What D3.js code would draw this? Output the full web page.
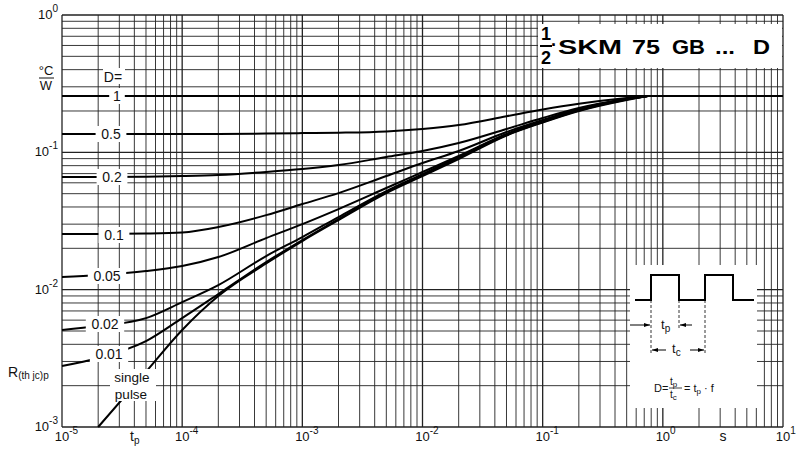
<!DOCTYPE html>
<html><head><meta charset="utf-8">
<script src="https://cdn.jsdelivr.net/npm/d3@7/dist/d3.min.js"></script>
<style>
html,body{margin:0;padding:0;background:#fff;}
svg{display:block;font-family:"Liberation Sans",Arial,sans-serif;}
</style></head>
<body>
<svg id="chart" width="797" height="452"></svg>
<script>
// ---- data ----
const tValues = [1e-5, 2e-5, 5e-5, 1e-4, 2e-4, 5e-4, 1e-3, 2e-3, 5e-3, 1e-2, 2e-2, 5e-2, 0.1, 0.2, 0.5, 0.75];
const tD1 = [1e-5, 10];
const rD1 = [0.257, 0.257];
const rD05  = [0.136,0.136,0.136,0.136,0.136,0.137,0.138,0.139,0.142,0.148,0.158,0.183,0.205,0.226,0.249,0.257];
const rD02  = [0.066,0.066,0.0665,0.0672,0.0684,0.0719,0.0755,0.0808,0.0924,0.1022,0.1168,0.1478,0.1778,0.2102,0.2444,0.257];
const rD01  = [0.0254,0.0254,0.0256,0.0261,0.0286,0.0349,0.042,0.0505,0.0672,0.0836,0.1022,0.1405,0.1719,0.2067,0.2444,0.257];
const rD005 = [0.01235,0.01277,0.01366,0.01486,0.01728,0.02375,0.03003,0.03864,0.055,0.0719,0.094,0.1359,0.169,0.2049,0.2444,0.257];
const rD002 = [0.00508,0.00543,0.00621,0.00812,0.0108,0.01757,0.02415,0.0338,0.0522,0.0695,0.0924,0.1348,0.1676,0.2033,0.2444,0.257];
const rD001 = [0.00278,0.00318,0.00422,0.00621,0.00929,0.01589,0.02297,0.0327,0.0514,0.0684,0.0909,0.1337,0.1662,0.2016,0.2424,0.257];
const tSingle = [2e-5, 5e-5, 1e-4, 2e-4, 5e-4, 1e-3, 2e-3, 5e-3, 1e-2, 2e-2, 5e-2, 0.1, 0.2, 0.5, 0.75];
const rSingle = [0.001,0.00252,0.00508,0.00898,0.0155,0.0226,0.0321,0.0505,0.0672,0.0894,0.1326,0.1648,0.1999,0.2403,0.257];
const xTickExps = [-5,-4,-3,-2,-1,0,1];
const yTickExps = [0,-1,-2,-3];
const curveLabels = ["1","0.5","0.2","0.1","0.05","0.02","0.01"];
const titleParts = ["SKM","75","GB","...","D"];

const svg = d3.select("#chart");
const X0=62, X1=783, Y0=427, Y1=15;
const x = d3.scaleLog().domain([1e-5,10]).range([X0,X1]);
const y = d3.scaleLog().domain([1e-3,1]).range([Y0,Y1]);

// ---- grid ----
const g = svg.append("g");
const xMinor=[], yMinor=[];
for(let e=-5;e<1;e++) for(let m=1;m<10;m++) xMinor.push(m*Math.pow(10,e));
xMinor.push(10);
for(let e=-3;e<0;e++) for(let m=1;m<10;m++) yMinor.push(m*Math.pow(10,e));
yMinor.push(1);
const isDec = d=>Math.abs(Math.log10(d)-Math.round(Math.log10(d)))<1e-9;
g.selectAll("line.vx").data(xMinor).join("line")
  .attr("x1",d=>x(d)).attr("x2",d=>x(d)).attr("y1",Y1).attr("y2",Y0)
  .attr("stroke","#222").attr("stroke-width",d=>isDec(d)?1.3:0.9);
g.selectAll("line.hy").data(yMinor).join("line")
  .attr("y1",d=>y(d)).attr("y2",d=>y(d)).attr("x1",X0).attr("x2",X1)
  .attr("stroke","#222").attr("stroke-width",d=>isDec(d)?1.3:0.9);

// ---- white boxes (title, inset) ----
svg.append("rect").attr("x",538).attr("y",24).attr("width",244).attr("height",44).attr("fill","#fff");
svg.append("rect").attr("x",630).attr("y",265).attr("width",127).attr("height",143).attr("fill","#fff");

// ---- curves ----
const line = d3.line().x(d=>x(d[0])).y(d=>y(d[1])).curve(d3.curveMonotoneX);
const series = [
  [tD1,rD1],[tValues,rD05],[tValues,rD02],[tValues,rD01],[tValues,rD005],[tValues,rD002],[tValues,rD001],[tSingle,rSingle]
];
svg.append("g").selectAll("path").data(series).join("path")
  .attr("d",s=>line(s[0].map((t,i)=>[t,s[1][i]])))
  .attr("fill","none").attr("stroke","#000").attr("stroke-width",2);

// ---- curve labels ----
const lab = svg.append("g").attr("font-size",14).attr("fill","#111");
const labPos = [[117,96],[111,134],[112,177],[114,235],[107,276],[105,324],[109,354]];
curveLabels.forEach((t,i)=>{
  const [cx,cy]=labPos[i];
  const w = t.length*7.6+8;
  lab.append("rect").attr("x",cx-w/2).attr("y",cy-8).attr("width",w).attr("height",16).attr("fill","#fff");
  lab.append("text").attr("x",cx).attr("y",cy+5).attr("text-anchor","middle").text(t);
});
lab.append("rect").attr("x",103).attr("y",68).attr("width",22).attr("height",16).attr("fill","#fff");
lab.append("text").attr("x",113).attr("y",82).attr("text-anchor","middle").text("D=");
lab.append("rect").attr("x",110).attr("y",369).attr("width",46).attr("height",32).attr("fill","#fff");
lab.append("text").attr("x",132).attr("y",382).attr("text-anchor","middle").attr("font-size",13.5).text("single");
lab.append("text").attr("x",131).attr("y",399).attr("text-anchor","middle").attr("font-size",13.5).text("pulse");

// ---- axis tick labels ----
const tk = svg.append("g").attr("fill","#111").attr("font-size",13);
xTickExps.forEach(e=>{
  const t = tk.append("text").attr("x",x(Math.pow(10,e))-7.2).attr("y",441);
  t.append("tspan").text("10");
  t.append("tspan").attr("dy",-7).attr("font-size",10).text(e===0?"0":(e>0?String(e):"-"+(-e)));
});
yTickExps.forEach(e=>{
  const t = tk.append("text").attr("x",58).attr("y",y(Math.pow(10,e))+4).attr("text-anchor","end");
  t.append("tspan").text("10");
  t.append("tspan").attr("dy",-7).attr("font-size",10).text(e===0?"0":"-"+(-e));
});
// unit labels
const ax = svg.append("g").attr("fill","#111");
ax.append("text").attr("x",46).attr("y",75).attr("text-anchor","middle").attr("font-size",13).text("°C");
ax.append("line").attr("x1",39).attr("x2",54).attr("y1",78).attr("y2",78).attr("stroke","#111").attr("stroke-width",1);
ax.append("text").attr("x",46).attr("y",90).attr("text-anchor","middle").attr("font-size",13).text("W");
const rl = ax.append("text").attr("x",8).attr("y",377).attr("font-size",14);
rl.append("tspan").text("R");
rl.append("tspan").attr("dy",2).attr("font-size",10).text("(th jc)p");
const tpl = ax.append("text").attr("x",130).attr("y",441).attr("font-size",14);
tpl.append("tspan").text("t");
tpl.append("tspan").attr("dy",3).attr("font-size",10).text("p");
ax.append("text").attr("x",723).attr("y",441).attr("font-size",14).attr("text-anchor","middle").text("s");

// ---- title ----
const ti = svg.append("g").attr("fill","#000").attr("font-weight","bold");
ti.append("text").attr("x",546).attr("y",40).attr("text-anchor","middle").attr("font-size",18).text("1");
ti.append("line").attr("x1",540).attr("x2",552).attr("y1",46).attr("y2",46).attr("stroke","#000").attr("stroke-width",2);
ti.append("text").attr("x",546).attr("y",64).attr("text-anchor","middle").attr("font-size",18).text("2");
ti.append("text").attr("x",554).attr("y",51).attr("text-anchor","middle").attr("font-size",18).text("·");
const tX = [[558,64],[632,28],[672,33],[715,20],[753,17]];
titleParts.forEach((p,i)=>{
  ti.append("text").attr("x",tX[i][0]).attr("y",54).attr("font-size",19.5)
    .attr("textLength",tX[i][1]).attr("lengthAdjust","spacingAndGlyphs").text(p);
});

// ---- inset: pulse diagram ----
const ins = svg.append("g").attr("stroke","#000").attr("fill","none");
const wave = [[635,300],[651,300],[651,275],[679,275],[679,300],[705,300],[705,275],[733,275],[733,300],[754,300]];
ins.append("path").attr("d",d3.line()(wave)).attr("stroke-width",2);
ins.append("line").attr("x1",651).attr("x2",651).attr("y1",300).attr("y2",355).attr("stroke-width",0.8).attr("stroke-dasharray","3,2");
ins.append("line").attr("x1",679).attr("x2",679).attr("y1",300).attr("y2",330).attr("stroke-width",0.8).attr("stroke-dasharray","3,2");
ins.append("line").attr("x1",705).attr("x2",705).attr("y1",300).attr("y2",355).attr("stroke-width",0.8).attr("stroke-dasharray","3,2");
function arrow(x1,y1,x2,y2){
  ins.append("line").attr("x1",x1).attr("y1",y1).attr("x2",x2).attr("y2",y2).attr("stroke-width",1);
  const dir = Math.sign(x2-x1);
  ins.append("path").attr("d",`M${x2},${y2}L${x2-dir*6},${y2-2}L${x2-dir*6},${y2+2}Z`).attr("fill","#000").attr("stroke","none");
}
arrow(630,325,650,325); arrow(692,325,680,325);
arrow(666,350,652,350); arrow(690,350,704,350);
const it = svg.append("g").attr("fill","#111").attr("font-size",13);
let tt = it.append("text").attr("x",661).attr("y",329); tt.append("tspan").text("t"); tt.append("tspan").attr("dy",3).attr("font-size",10).text("p");
tt = it.append("text").attr("x",672).attr("y",353); tt.append("tspan").text("t"); tt.append("tspan").attr("dy",3).attr("font-size",10).text("c");
it.append("text").attr("x",654).attr("y",392).attr("font-size",11).text("D=");
tt = it.append("text").attr("x",670).attr("y",385).attr("font-size",10); tt.append("tspan").text("t"); tt.append("tspan").attr("dy",2).attr("font-size",8).text("p");
it.append("line").attr("x1",669).attr("x2",682).attr("y1",388).attr("y2",388).attr("stroke","#111").attr("stroke-width",0.8);
tt = it.append("text").attr("x",670).attr("y",398).attr("font-size",10); tt.append("tspan").text("t"); tt.append("tspan").attr("dy",2).attr("font-size",8).text("c");
tt = it.append("text").attr("x",684).attr("y",392).attr("font-size",11); tt.append("tspan").text("= t"); tt.append("tspan").attr("dy",2).attr("font-size",8).text("p"); tt.append("tspan").attr("dy",-2).text(" · f");
</script>
</body></html>
